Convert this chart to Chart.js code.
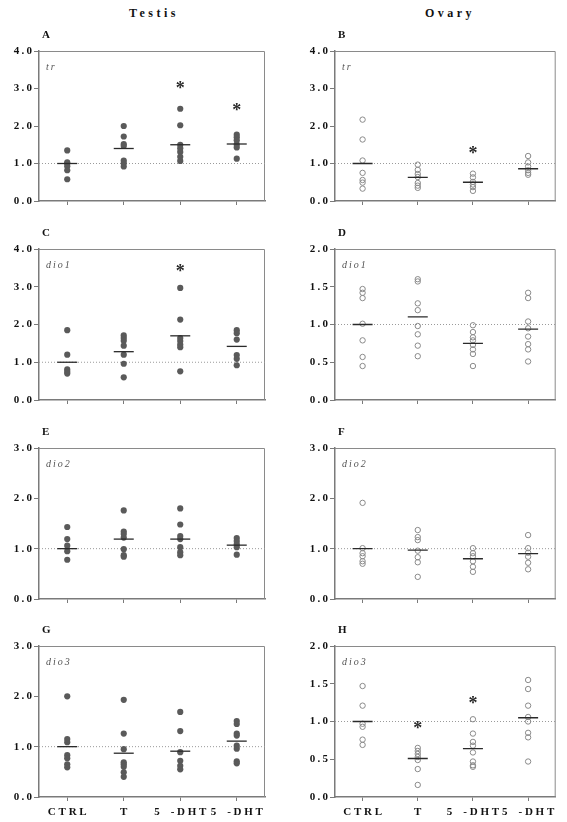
<!DOCTYPE html>
<html>
<head>
<meta charset="utf-8">
<script src="https://cdn.jsdelivr.net/npm/chart.js@4/dist/chart.umd.min.js"></script>
<style>
  html, body { margin: 0; padding: 0; background: #fff; }
  body { width: 567px; height: 822px; position: relative; overflow: hidden; font-family: "Liberation Serif", serif; }
  canvas { position: absolute; }
  .title { position: absolute; font: bold 12px "Liberation Serif", serif; letter-spacing: 3.5px; color: #111; transform: translate(-50%, -50%); white-space: nowrap; }
  .letter { position: absolute; font: bold 11px "Liberation Serif", serif; color: #111; transform: translateY(-50%); }
</style>
</head>
<body>
<div class="title" style="left:154px; top:13px;">Testis</div>
<div class="title" style="left:450px; top:13px;">Ovary</div>
<script>
// ---------- DATA ----------
const categories = ['C T R L', 'T', '5    - D H T', '5    - D H T'];

const testisTr = [
  [1.35, 1.03, 1.00, 0.93, 0.82, 0.58],
  [2.00, 1.72, 1.52, 1.47, 1.08, 1.01, 0.92],
  [2.46, 2.02, 1.50, 1.41, 1.31, 1.18, 1.07],
  [1.77, 1.70, 1.62, 1.51, 1.43, 1.13]
];
const testisTrMean = [1.00, 1.40, 1.50, 1.52];
const testisTrStars = [null, null, 3.1, 2.5];

const ovaryTr = [
  [2.17, 1.64, 1.08, 0.75, 0.56, 0.49, 0.33],
  [0.97, 0.83, 0.72, 0.64, 0.48, 0.41, 0.35],
  [0.73, 0.63, 0.51, 0.44, 0.37, 0.27],
  [1.20, 1.03, 0.92, 0.82, 0.75, 0.70]
];
const ovaryTrMean = [1.00, 0.63, 0.50, 0.86];
const ovaryTrStars = [null, null, 1.37, null];

const testisDio1 = [
  [1.85, 1.20, 0.81, 0.75, 0.70],
  [1.71, 1.64, 1.57, 1.44, 1.20, 0.96, 0.60],
  [2.97, 2.13, 1.64, 1.56, 1.47, 1.40, 0.76],
  [1.85, 1.77, 1.60, 1.19, 1.09, 0.92]
];
const testisDio1Mean = [1.00, 1.28, 1.70, 1.42];
const testisDio1Stars = [null, null, 3.49, null];

const ovaryDio1 = [
  [1.47, 1.42, 1.35, 1.01, 0.79, 0.57, 0.45],
  [1.60, 1.57, 1.28, 1.19, 0.98, 0.87, 0.72, 0.58],
  [0.99, 0.90, 0.83, 0.79, 0.73, 0.67, 0.61, 0.45],
  [1.42, 1.35, 1.04, 0.95, 0.84, 0.74, 0.67, 0.51]
];
const ovaryDio1Mean = [1.00, 1.10, 0.75, 0.94];
const ovaryDio1Stars = [null, null, null, null];

const testisDio2 = [
  [1.43, 1.19, 1.06, 0.95, 0.78],
  [1.76, 1.34, 1.29, 1.22, 0.99, 0.87, 0.84],
  [1.80, 1.48, 1.25, 1.19, 1.03, 0.93, 0.87],
  [1.21, 1.15, 1.09, 1.03, 0.88]
];
const testisDio2Mean = [1.00, 1.19, 1.19, 1.07];
const testisDio2Stars = [null, null, null, null];

const ovaryDio2 = [
  [1.91, 1.01, 0.91, 0.85, 0.75, 0.70],
  [1.37, 1.23, 1.17, 0.96, 0.83, 0.73, 0.44],
  [1.01, 0.91, 0.85, 0.75, 0.64, 0.54],
  [1.27, 1.01, 0.92, 0.84, 0.72, 0.59]
];
const ovaryDio2Mean = [1.00, 0.97, 0.80, 0.90];
const ovaryDio2Stars = [null, null, null, null];

const testisDio3 = [
  [2.00, 1.15, 1.09, 0.83, 0.77, 0.65, 0.59],
  [1.93, 1.26, 0.95, 0.69, 0.65, 0.60, 0.49, 0.40],
  [1.69, 1.31, 0.89, 0.72, 0.62, 0.55],
  [1.51, 1.45, 1.26, 1.22, 1.02, 0.96, 0.71, 0.67]
];
const testisDio3Mean = [1.00, 0.87, 0.91, 1.11];
const testisDio3Stars = [null, null, null, null];

const ovaryDio3 = [
  [1.47, 1.21, 0.97, 0.93, 0.76, 0.69],
  [0.65, 0.61, 0.57, 0.53, 0.49, 0.37, 0.16],
  [1.03, 0.84, 0.73, 0.68, 0.59, 0.47, 0.42, 0.40],
  [1.55, 1.43, 1.21, 1.06, 1.00, 0.85, 0.79, 0.47]
];
const ovaryDio3Mean = [1.00, 0.51, 0.64, 1.05];
const ovaryDio3Stars = [null, 0.95, 1.29, null];

const referenceLevel = 1.0;

// ---------- LAYOUT ----------
const rowTops = [51, 249, 448, 646];
const rowBottoms = [201, 400, 599, 797];
const colLeft = [0, 283];
const colWidth = [283, 284];
const axisWidth = [39, 52];
const rightPad = [18, 6];
const TOP_PAD = 20, XAXIS_H = 26;

const panels = [
  { letter: 'A', col: 0, row: 0, max: 4, step: 1, gene: 'tr', data: testisTr, mean: testisTrMean, stars: testisTrStars, filled: true },
  { letter: 'B', col: 1, row: 0, max: 4, step: 1, gene: 'tr', data: ovaryTr, mean: ovaryTrMean, stars: ovaryTrStars, filled: false },
  { letter: 'C', col: 0, row: 1, max: 4, step: 1, gene: 'dio1', data: testisDio1, mean: testisDio1Mean, stars: testisDio1Stars, filled: true },
  { letter: 'D', col: 1, row: 1, max: 2, step: 0.5, gene: 'dio1', data: ovaryDio1, mean: ovaryDio1Mean, stars: ovaryDio1Stars, filled: false },
  { letter: 'E', col: 0, row: 2, max: 3, step: 1, gene: 'dio2', data: testisDio2, mean: testisDio2Mean, stars: testisDio2Stars, filled: true },
  { letter: 'F', col: 1, row: 2, max: 3, step: 1, gene: 'dio2', data: ovaryDio2, mean: ovaryDio2Mean, stars: ovaryDio2Stars, filled: false },
  { letter: 'G', col: 0, row: 3, max: 3, step: 1, gene: 'dio3', data: testisDio3, mean: testisDio3Mean, stars: testisDio3Stars, filled: true },
  { letter: 'H', col: 1, row: 3, max: 2, step: 0.5, gene: 'dio3', data: ovaryDio3, mean: ovaryDio3Mean, stars: ovaryDio3Stars, filled: false }
];

const AXIS_COLOR = '#7a7a7a';
const serif = "'Liberation Serif', 'Times New Roman', serif";

const decorPlugin = {
  id: 'panelDecor',
  beforeDatasetsDraw(chart, args, opts) {
    const { ctx, chartArea: a } = chart;
    ctx.save();
    ctx.strokeStyle = '#8a8a8a';
    ctx.lineWidth = 1;
    ctx.beginPath();
    ctx.moveTo(a.left, a.top + 0.5);
    ctx.lineTo(a.right - 0.5, a.top + 0.5);
    ctx.lineTo(a.right - 0.5, a.bottom);
    ctx.stroke();
    // gene label
    ctx.fillStyle = '#555';
    ctx.font = 'italic 10px ' + serif;
    ctx.letterSpacing = '2px';
    ctx.textBaseline = 'middle';
    ctx.textAlign = 'left';
    ctx.fillText(opts.gene, a.left + 7, a.top + 16);
    ctx.restore();
  },
  afterDatasetsDraw(chart, args, opts) {
    const { ctx } = chart;
    const xs = chart.scales.x, ys = chart.scales.y;
    ctx.save();
    ctx.fillStyle = '#2a2a2a';
    ctx.font = 'bold 18px ' + serif;
    ctx.textAlign = 'center';
    ctx.textBaseline = 'alphabetic';
    opts.stars.forEach((v, i) => {
      if (v == null) return;
      const px = xs.getPixelForValue(i + 1);
      const py = ys.getPixelForValue(v);
      ctx.fillText('*', px, py + 0.5 * 18);
    });
    ctx.restore();
  }
};

const spaced = s => s.split('').join('\u2009');

panels.forEach(p => {
  const plotTop = rowTops[p.row], plotBottom = rowBottoms[p.row];
  const cv = document.createElement('canvas');
  const w = colWidth[p.col];
  const h = plotBottom - plotTop + TOP_PAD + XAXIS_H;
  cv.width = w; cv.height = h;
  cv.style.left = colLeft[p.col] + 'px';
  cv.style.top = (plotTop - TOP_PAD) + 'px';
  cv.style.width = w + 'px'; cv.style.height = h + 'px';
  document.body.appendChild(cv);

  const lt = document.createElement('div');
  lt.className = 'letter';
  lt.textContent = p.letter;
  lt.style.left = (colLeft[p.col] + axisWidth[p.col] + 3) + 'px';
  lt.style.top = (plotTop - 17) + 'px';
  document.body.appendChild(lt);

  const pts = [];
  p.data.forEach((grp, i) => grp.forEach(v => pts.push({ x: i + 1, y: v })));
  const means = p.mean.map((v, i) => ({ x: i + 1, y: v }));
  const isBottom = p.row === 3;

  new Chart(cv, {
    type: 'scatter',
    data: {
      datasets: [
        { data: means, pointStyle: 'line', pointRadius: 10, pointBorderWidth: 1.3, pointBorderColor: '#2a2a2a', pointBackgroundColor: '#2a2a2a', pointHoverRadius: 10 },
        p.filled
          ? { data: pts, pointRadius: 3.1, pointBackgroundColor: '#5a5a5a', pointBorderColor: '#5a5a5a', pointBorderWidth: 0, pointHoverRadius: 3.1 }
          : { data: pts, pointRadius: 2.7, pointBackgroundColor: 'rgba(255,255,255,0)', pointBorderColor: '#8a8a8a', pointBorderWidth: 1, pointHoverRadius: 2.7 },
        { data: [{ x: 0.5, y: referenceLevel }, { x: 4.5, y: referenceLevel }], showLine: true, pointRadius: 0, borderColor: '#9a9a9a', borderWidth: 1, borderDash: [1, 2] }
      ]
    },
    options: {
      responsive: false,
      animation: false,
      events: [],
      layout: { padding: { left: 0, right: rightPad[p.col], top: TOP_PAD, bottom: 0 } },
      plugins: {
        legend: { display: false },
        tooltip: { enabled: false },
        panelDecor: { gene: p.gene, stars: p.stars }
      },
      scales: {
        x: {
          type: 'linear', min: 0.5, max: 4.5,
          afterBuildTicks: s => { s.ticks = categories.map((c, i) => ({ value: i + 1 })); },
          afterFit: s => { s.height = XAXIS_H; },
          grid: { drawOnChartArea: false, tickLength: 4, color: AXIS_COLOR },
          border: { color: AXIS_COLOR, width: 1.5 },
          ticks: {
            autoSkip: false, maxRotation: 0, padding: 5,
            color: '#111', font: { family: serif, weight: 'bold', size: 11 },
            callback: v => isBottom ? categories[Math.round(v) - 1] : ''
          }
        },
        y: {
          min: 0, max: p.max,
          afterBuildTicks: s => { const t = []; for (let v = 0; v <= p.max + 1e-9; v += p.step) t.push({ value: +v.toFixed(2) }); s.ticks = t; },
          afterFit: s => { s.width = axisWidth[p.col]; },
          grid: { drawOnChartArea: false, tickLength: 5, color: AXIS_COLOR },
          border: { color: AXIS_COLOR, width: 1.5 },
          ticks: {
            padding: 2, color: '#111', font: { family: serif, weight: 'bold', size: 11 },
            callback: v => spaced(Number(v).toFixed(1))
          }
        }
      }
    },
    plugins: [decorPlugin]
  });
});
</script>
</body>
</html>
